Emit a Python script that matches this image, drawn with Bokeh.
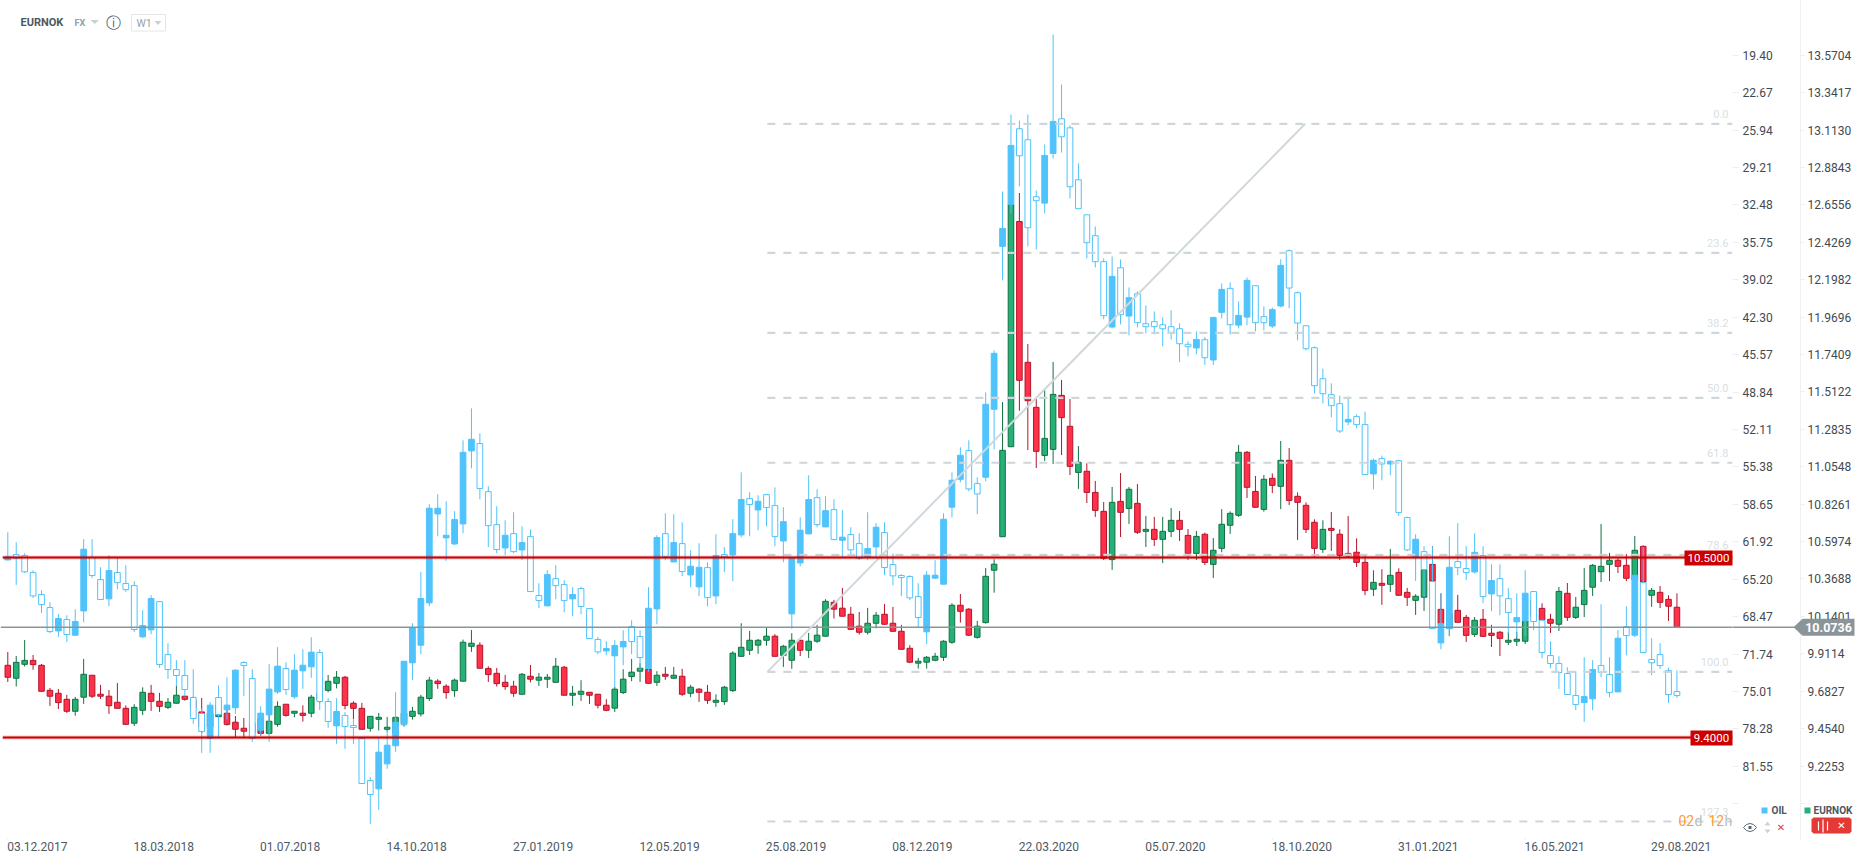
from bokeh.embed import file_html
from bokeh.resources import INLINE
from bokeh.plotting import figure
from bokeh.models import (ColumnDataSource, LinearAxis, Range1d, FixedTicker, Label, NumeralTickFormatter)

symbol = "EURNOK"
oil_ticks = [19.40,22.67,25.94,29.21,32.48,35.75,39.02,42.30,45.57,48.84,52.11,55.38,58.65,61.92,65.20,68.47,71.74,75.01,78.28,81.55,84.82]
eur_ticks = [13.5704,13.3417,13.1130,12.8843,12.6556,12.4269,12.1982,11.9696,11.7409,11.5122,11.2835,11.0548,10.8261,10.5974,10.3688,10.1401,9.9114,9.6827,9.4540,9.2253,8.9966]
date_labels = ["03.12.2017","18.03.2018","01.07.2018","14.10.2018","27.01.2019","12.05.2019","25.08.2019","08.12.2019","22.03.2020","05.07.2020","18.10.2020","31.01.2021","16.05.2021","29.08.2021"]
fib_names = ["0.0","23.6","38.2","50.0","61.8","78.6","100.0","127.3"]
fib_levels = [13.151,12.362,11.873,11.476,11.079,10.516,9.801,8.886]
support_levels = [10.5,9.4]
last_price = 10.0736

eur_high = [9.922,9.898,9.996,9.904,9.849,9.702,9.696,9.660,9.648,9.880,
9.782,9.721,9.690,9.733,9.596,9.603,9.706,9.721,9.672,9.641,
9.715,9.654,9.650,9.641,9.578,9.629,9.599,9.531,9.519,9.548,
9.548,9.548,9.621,9.603,9.560,9.596,9.660,9.690,9.782,9.806,
9.776,9.621,9.611,9.531,9.550,9.525,9.527,9.578,9.586,9.660,
9.770,9.756,9.725,9.760,9.998,10.057,9.982,9.835,9.825,9.782,
9.746,9.794,9.843,9.794,9.788,9.886,9.837,9.715,9.750,9.678,
9.666,9.634,9.709,9.817,9.880,9.854,9.823,9.805,9.831,9.831,
9.819,9.721,9.701,9.721,9.664,9.715,9.927,10.098,10.051,10.002,
10.072,10.031,9.966,10.037,9.996,10.039,10.088,10.245,10.241,10.314,
10.198,10.167,10.192,10.167,10.216,10.198,10.088,9.964,9.886,9.898,
9.917,9.994,10.220,10.277,10.190,10.112,10.436,10.489,11.450,12.664,
12.728,11.805,11.469,11.524,11.695,11.585,11.469,11.181,11.076,10.968,
10.839,10.931,11.016,10.931,10.949,10.754,10.748,10.748,10.803,10.784,
10.674,10.662,10.652,10.619,10.796,10.782,11.188,11.151,10.998,11.004,
11.014,11.212,11.169,10.898,10.837,10.733,10.727,10.778,10.672,10.754,
10.617,10.513,10.422,10.428,10.552,10.434,10.314,10.275,10.444,10.570,
10.281,10.200,10.271,10.149,10.136,10.185,10.088,10.051,10.045,10.045,
10.159,10.261,10.220,10.155,10.320,10.344,10.259,10.436,10.460,10.705,
10.528,10.495,10.521,10.631,10.574,10.314,10.326,10.269,10.281]
eur_low = [9.739,9.711,9.833,9.814,9.680,9.593,9.574,9.550,9.533,9.605,
9.641,9.635,9.544,9.576,9.478,9.470,9.537,9.562,9.556,9.574,
9.607,9.625,9.548,9.425,9.425,9.523,9.472,9.401,9.395,9.405,
9.411,9.419,9.466,9.527,9.523,9.497,9.523,9.609,9.676,9.700,
9.572,9.511,9.448,9.436,9.442,9.436,9.405,9.466,9.509,9.528,
9.623,9.697,9.636,9.648,9.742,9.923,9.821,9.739,9.711,9.691,
9.648,9.662,9.737,9.715,9.703,9.735,9.656,9.593,9.623,9.605,
9.577,9.560,9.556,9.666,9.744,9.739,9.729,9.715,9.752,9.758,
9.654,9.646,9.617,9.605,9.587,9.599,9.678,9.894,9.904,9.911,
9.961,9.894,9.831,9.819,9.898,9.886,9.978,10.017,10.127,10.139,
10.057,10.029,10.029,10.067,10.088,10.047,9.937,9.854,9.821,9.821,
9.866,9.868,9.972,10.102,10.023,10.004,10.096,10.285,10.627,11.177,
11.397,11.157,11.047,11.090,11.071,11.126,11.004,10.919,10.833,10.748,
10.485,10.424,10.625,10.705,10.644,10.564,10.570,10.466,10.625,10.601,
10.485,10.485,10.454,10.375,10.532,10.644,10.748,10.864,10.805,10.780,
10.894,10.796,10.821,10.607,10.650,10.501,10.528,10.540,10.485,10.501,
10.442,10.269,10.265,10.210,10.289,10.267,10.204,10.149,10.173,10.342,
10.016,10.020,10.102,9.984,10.014,10.016,9.953,9.898,9.965,9.959,
9.971,10.118,10.118,10.039,10.051,10.112,10.124,10.136,10.265,10.350,
10.356,10.405,10.356,10.342,10.342,10.198,10.191,10.112,10.0736]
eur_open = [9.841,9.762,9.847,9.871,9.841,9.688,9.670,9.633,9.560,9.646,
9.780,9.664,9.652,9.615,9.578,9.487,9.566,9.670,9.621,9.584,
9.609,9.652,9.629,9.556,9.466,9.527,9.548,9.493,9.456,9.425,
9.517,9.425,9.480,9.603,9.548,9.548,9.548,9.629,9.688,9.731,
9.768,9.609,9.578,9.456,9.511,9.450,9.425,9.487,9.529,9.544,
9.638,9.744,9.713,9.686,9.744,9.957,9.964,9.821,9.792,9.737,
9.713,9.664,9.774,9.750,9.756,9.737,9.829,9.658,9.664,9.676,
9.664,9.597,9.579,9.674,9.772,9.805,9.817,9.737,9.786,9.762,
9.774,9.670,9.695,9.676,9.615,9.619,9.686,9.896,9.933,9.964,
9.994,10.019,9.902,9.872,9.994,9.933,9.988,10.019,10.226,10.190,
10.153,10.080,10.043,10.098,10.153,10.098,10.049,9.945,9.854,9.860,
9.872,9.890,9.982,10.208,10.184,10.012,10.102,10.422,10.627,11.177,
12.554,11.693,11.418,11.124,11.161,11.491,11.302,11.020,11.027,10.898,
10.782,10.487,10.843,10.800,10.831,10.660,10.672,10.611,10.660,10.727,
10.635,10.525,10.642,10.458,10.556,10.697,10.758,11.143,10.904,10.794,
10.984,10.935,11.094,10.874,10.819,10.715,10.550,10.678,10.642,10.525,
10.532,10.470,10.306,10.342,10.336,10.409,10.287,10.238,10.257,10.458,
10.183,10.067,10.177,10.134,10.030,10.122,10.037,10.043,9.982,9.988,
9.988,10.138,10.189,10.122,10.092,10.281,10.134,10.212,10.318,10.413,
10.458,10.483,10.452,10.363,10.568,10.269,10.287,10.244,10.196]
eur_close = [9.768,9.859,9.871,9.845,9.682,9.652,9.613,9.560,9.633,9.786,
9.652,9.652,9.594,9.578,9.480,9.584,9.676,9.621,9.590,9.615,
9.658,9.633,9.578,9.466,9.548,9.599,9.480,9.450,9.438,9.487,
9.425,9.499,9.590,9.535,9.560,9.535,9.646,9.670,9.743,9.768,
9.596,9.578,9.450,9.529,9.523,9.462,9.523,9.548,9.560,9.646,
9.750,9.729,9.674,9.750,9.982,9.976,9.823,9.784,9.729,9.711,
9.670,9.786,9.756,9.768,9.768,9.835,9.658,9.670,9.682,9.658,
9.597,9.566,9.695,9.756,9.799,9.823,9.731,9.780,9.774,9.780,
9.664,9.707,9.676,9.627,9.627,9.707,9.915,9.951,9.994,9.994,
10.019,9.896,9.957,9.994,9.933,9.988,10.025,10.232,10.184,10.141,
10.061,10.043,10.098,10.147,10.092,10.049,9.939,9.860,9.866,9.890,
9.896,9.988,10.208,10.171,10.025,10.080,10.385,10.459,11.155,12.660,
11.583,11.458,11.149,11.228,11.497,11.355,11.057,11.082,10.898,10.788,
10.495,10.837,10.776,10.917,10.654,10.672,10.611,10.660,10.727,10.672,
10.525,10.629,10.470,10.544,10.703,10.770,11.143,10.929,10.807,10.978,
10.941,11.094,10.849,10.837,10.672,10.556,10.672,10.666,10.513,10.509,
10.470,10.299,10.348,10.330,10.391,10.269,10.257,10.263,10.426,10.356,
10.094,10.159,10.104,10.024,10.116,10.018,10.024,10.006,9.994,10.000,
10.112,10.240,10.118,10.098,10.293,10.134,10.196,10.299,10.452,10.446,
10.483,10.446,10.373,10.544,10.350,10.299,10.226,10.202,10.0736]

oil_low = [61.10,61.97,62.93,64.42,66.17,67.21,68.26,68.35,67.83,61.71,
61.71,64.16,63.11,63.37,63.98,65.38,67.91,66.60,67.16,70.80,
72.28,72.28,73.07,76.50,75.95,74.46,73.77,73.07,72.37,73.07,
76.30,72.63,71.14,72.46,71.76,71.32,70.27,71.32,75.60,75.60,
76.82,77.46,79.07,82.50,79.12,78.40,75.08,72.37,69.05,64.56,
58.65,57.78,58.39,59.26,53.06,50.27,52.45,57.08,58.83,60.05,
59.35,60.57,60.84,65.55,64.42,63.98,65.29,65.90,65.87,67.77,
70.24,70.62,70.53,69.66,68.79,69.66,65.90,61.36,59.44,59.53,
60.23,62.67,62.06,63.72,61.27,62.41,59.96,55.86,57.60,57.87,
57.78,57.17,58.91,63.37,59.79,56.12,57.34,57.95,58.22,59.17,
60.66,61.18,59.35,60.31,60.22,62.96,64.77,64.85,65.55,64.50,
63.54,59.44,55.86,53.67,53.06,56.29,48.87,45.20,31.31,24.58,
25.11,24.58,31.22,27.20,17.59,21.96,25.54,28.86,33.35,34.37,
37.16,36.99,37.25,39.70,40.04,41.27,41.79,42.32,41.70,42.84,
44.41,43.54,44.03,42.32,39.35,39.26,40.92,38.82,39.55,41.35,
41.47,37.24,36.37,40.04,43.05,44.85,46.80,48.08,49.16,49.25,
50.79,50.56,54.66,54.40,54.81,54.75,59.73,61.27,62.32,62.32,
66.46,61.45,60.31,62.32,61.19,62.32,63.90,63.90,65.99,66.43,
64.42,66.25,68.70,70.62,71.93,72.89,73.24,72.02,72.28,67.39,
72.02,69.66,67.56,64.86,62.38,70.36,70.80,72.92,73.16]
oil_high = [63.54,65.70,64.65,66.84,68.15,69.92,70.24,70.68,70.10,68.96,
65.09,67.01,67.56,66.08,66.31,69.81,70.33,70.01,72.95,73.91,
74.55,75.45,77.84,80.38,80.38,79.12,77.46,76.97,75.40,79.42,
78.89,79.42,75.22,75.31,75.66,74.78,73.82,76.65,78.19,79.59,
80.03,79.59,83.06,86.58,85.36,81.77,80.29,77.93,74.00,71.76,
67.56,61.45,63.60,62.23,61.19,55.51,58.22,62.41,62.93,63.11,
62.93,63.54,66.28,67.74,67.56,66.95,68.09,68.44,68.26,70.39,
71.76,71.84,74.64,72.72,71.76,73.15,73.30,69.14,63.54,63.72,
64.94,65.90,66.69,67.56,67.39,64.59,65.38,61.54,61.45,60.92,
60.57,62.32,63.72,69.54,64.07,61.24,60.66,60.66,61.80,63.25,
63.02,63.54,63.54,63.40,64.85,65.73,66.69,67.04,69.40,70.88,
65.20,65.64,59.79,56.73,57.52,59.52,56.64,53.85,39.08,33.23,
30.87,36.11,36.38,33.23,28.43,27.90,31.92,32.85,37.16,37.95,
42.49,43.28,42.93,43.89,43.19,43.71,43.80,44.85,44.24,46.22,
45.72,45.55,46.48,46.48,42.40,43.80,43.28,43.01,43.54,43.45,
43.24,41.44,41.52,44.32,45.20,48.96,49.83,51.05,52.42,51.75,
52.01,56.06,57.34,56.56,56.12,59.67,62.76,65.35,66.75,69.52,
71.32,70.19,64.86,65.29,64.71,67.30,68.00,68.35,69.95,70.24,
70.19,69.66,72.11,72.98,74.79,75.31,76.65,77.67,76.65,73.77,
75.51,75.08,71.85,70.27,71.64,73.59,73.04,76.01,75.57]
oil_open = [63.25,63.37,64.56,66.66,67.42,69.78,68.64,70.04,68.90,62.58,
64.88,66.98,64.45,65.50,66.11,69.60,69.25,66.89,72.66,73.10,
73.62,74.84,77.38,78.51,76.21,77.03,76.21,73.15,72.75,79.12,
76.91,74.81,72.80,74.84,73.15,72.72,71.58,75.89,77.64,76.77,
78.08,78.16,83.06,84.02,80.32,79.71,77.70,72.37,69.43,66.89,
59.00,59.00,61.36,59.99,54.11,52.97,57.28,60.52,62.61,61.36,
62.79,62.00,66.28,67.07,64.80,65.76,67.07,66.54,67.59,70.39,
71.55,71.26,71.00,70.65,70.65,72.05,67.74,61.56,63.22,62.00,
64.53,64.07,64.16,66.81,63.14,63.25,61.22,58.24,58.68,58.39,
58.94,61.48,60.17,63.37,60.92,58.24,60.43,59.21,61.74,61.53,
62.64,63.40,62.52,60.66,64.18,64.91,65.06,66.83,68.55,64.85,
64.85,59.96,56.55,54.37,57.31,57.75,49.91,45.46,34.54,27.29,
28.19,34.48,32.12,28.16,25.19,26.53,30.90,32.82,35.79,37.45,
42.17,38.73,42.08,40.60,42.78,43.13,43.13,43.31,43.63,44.62,
44.88,44.24,45.84,42.32,39.87,42.96,42.14,39.08,42.78,42.78,
41.64,37.77,39.75,42.81,45.06,48.29,48.99,50.03,52.25,51.23,
51.69,56.06,54.81,55.13,54.90,59.38,62.64,61.71,64.36,69.52,
69.08,64.16,64.19,64.62,62.85,66.72,65.32,66.66,68.12,68.55,
66.43,68.90,71.61,72.57,73.36,75.28,76.16,75.46,73.10,73.36,
75.11,70.36,70.13,64.86,71.61,72.51,72.75,75.28,75.37]
oil_close = [63.52,63.05,63.14,64.62,66.54,67.68,69.72,68.73,70.10,67.97,
63.31,65.23,66.92,64.62,65.58,65.76,70.24,69.63,67.16,71.79,
73.10,73.62,75.54,76.94,79.12,75.54,76.62,76.44,72.48,73.88,
78.40,77.06,75.05,73.01,75.48,73.21,72.86,71.61,75.89,78.02,
77.11,77.99,79.12,82.79,83.52,81.34,79.76,77.93,72.51,70.97,
67.27,59.50,61.59,62.12,60.37,53.99,53.35,57.55,60.43,62.47,
61.22,62.64,61.48,66.63,67.53,65.15,65.67,66.92,66.02,67.77,
70.47,71.47,71.90,71.12,69.34,70.21,73.01,67.80,61.22,63.69,
62.09,64.83,65.87,64.19,66.66,63.05,63.08,61.33,58.16,59.15,
57.81,58.77,61.86,68.23,63.78,61.24,58.07,60.63,59.12,61.80,
61.30,62.09,63.25,62.38,61.13,63.92,64.88,64.97,66.72,69.80,
65.11,65.64,58.91,56.47,53.96,56.85,56.29,50.35,36.11,32.44,
25.83,26.79,31.77,32.33,27.99,24.96,25.75,30.29,33.35,35.18,
37.45,43.16,37.98,42.20,40.25,42.87,42.69,42.96,43.13,43.31,
44.67,44.99,44.27,46.04,41.88,39.78,42.99,42.29,39.55,42.25,
43.07,41.32,36.49,40.16,43.05,44.97,47.68,49.07,49.86,51.46,
50.99,51.69,56.00,54.66,55.13,54.84,59.82,63.31,62.79,65.41,
70.77,69.52,63.66,64.27,64.57,63.14,66.49,65.15,66.90,68.93,
68.85,66.28,68.79,71.87,72.57,73.45,75.37,75.98,75.66,72.75,
73.53,75.05,69.34,70.10,65.50,72.22,71.79,73.18,75.02]

BLUE, GREEN, GREEN_D, RED, RED_D = "#4fc3fb", "#25b077", "#12703f", "#ff3148", "#b3142c"
FIB = "#cdd7db"
FW, FH, W, H = 1732, 840, 1866, 865
week_px = 8.43
x_start = -7.3 / week_px
x_end = x_start + FW / week_px
eur_range = Range1d(8.770, 13.9048)
oil_range = Range1d(88.04, 14.62)

p = figure(width=W, height=H, frame_width=FW, frame_height=FH, output_backend="svg", toolbar_location=None,
           x_range=Range1d(x_start, x_end), y_range=eur_range, y_axis_location=None,
           min_border=0, min_border_left=0, min_border_right=0, min_border_top=0, min_border_bottom=0,
           outline_line_color=None, background_fill_color="white", border_fill_color="white")
p.styles = {"position": "absolute", "left": "0", "top": "0"}
p.grid.visible = False
p.extra_y_ranges = {"oil": oil_range}

idx = list(range(len(eur_open)))
date_ticks = [i * 15 + 3.5 for i in range(len(date_labels))]
xa = p.xaxis[0]
xa.ticker = FixedTicker(ticks=date_ticks)
xa.major_label_overrides = {t: s for t, s in zip(date_ticks, date_labels)}
xa.major_tick_line_color = None
xa.minor_tick_line_color = None
xa.major_tick_out = 0
xa.major_tick_in = 0
xa.axis_line_color = None
xa.major_label_standoff = 1
xa.major_label_text_font = "Roboto"
xa.major_label_text_font_size = "12px"
xa.major_label_text_color = "#4d5a63"

oa = LinearAxis(y_range_name="oil", ticker=FixedTicker(ticks=oil_ticks),
                major_label_overrides={oil_ticks[-1]: ""})
ea = LinearAxis(ticker=FixedTicker(ticks=eur_ticks), major_label_overrides={eur_ticks[-1]: ""})
for a in (oa, ea):
    a.minor_tick_line_color = None
    a.major_tick_in = 0
    a.major_label_text_font = "Roboto"
    a.major_label_text_font_size = "12px"
    a.major_label_text_color = "#3f4a52"
    a.major_tick_line_color = "#eceff1"
oa.formatter = NumeralTickFormatter(format="0.00")
ea.formatter = NumeralTickFormatter(format="0.0000")
oa.major_tick_out = 6
oa.major_label_standoff = 4
oa.axis_line_color = None
oa.axis_label = " "
oa.axis_label_standoff = 8
oa.axis_label_text_font_size = "12px"
ea.major_tick_out = 4
ea.major_label_standoff = 3
ea.axis_line_color = "#eef0f2"
p.add_layout(oa, "right")
p.add_layout(ea, "right")

def candles(o, h, l, c, up_fill, up_line, dn_fill, dn_line, width, **kw):
    up = [i for i in idx if c[i] >= o[i]]
    dn = [i for i in idx if c[i] < o[i]]
    for sel, fill, line in ((up, up_fill, up_line), (dn, dn_fill, dn_line)):
        src = ColumnDataSource(dict(x=sel, hi=[h[i] for i in sel], lo=[l[i] for i in sel],
                                    top=[max(o[i], c[i]) for i in sel], bot=[min(o[i], c[i]) for i in sel]))
        p.segment("x", "hi", "x", "lo", source=src, line_color=line, line_width=1, **kw)
        p.vbar(x="x", top="top", bottom="bot", width=width, source=src, fill_color=fill, line_color=line, line_width=1, **kw)

candles(eur_open, eur_high, eur_low, eur_close, GREEN, GREEN_D, RED, RED_D, 0.66)
# inverted scale: oil rising is drawn filled
candles(oil_open, oil_high, oil_low, oil_close, BLUE, BLUE, "white", BLUE, 0.68, y_range_name="oil")

p.segment([x_start], [last_price], [x_end], [last_price], line_color="#8b9599", line_width=1.4)
fib_x0 = 90.1
p.segment([fib_x0] * len(fib_levels), fib_levels, [x_end] * len(fib_levels), fib_levels,
          line_color=FIB, line_width=2.2, line_dash="8 8")
p.segment([fib_x0], [fib_levels[6]], [153.9], [fib_levels[0]], line_color="#d0d8dc", line_width=2)
x_red = -0.6
p.segment([x_red] * 2, support_levels, [x_end] * 2, support_levels, line_color="#cc0000", line_width=4, line_alpha=0.22)
p.segment([x_red] * 2, support_levels, [x_end] * 2, support_levels, line_color="#cc0000", line_width=2)
p.segment([i * 15 for i in range(len(date_labels))], [eur_range.start] * len(date_labels),
          [i * 15 for i in range(len(date_labels))], [eur_range.start + 0.012] * len(date_labels), line_color="#e8ebed")

# transparent page-sized layer for the tags and interface texts that sit outside the plot frame
ov = figure(width=W, height=H, output_backend="svg", toolbar_location=None,
            x_range=Range1d(0, W), y_range=Range1d(H, 0), x_axis_location=None, y_axis_location=None,
            min_border=0, outline_line_color=None, background_fill_color=None, border_fill_color=None)
ov.styles = {"position": "absolute", "left": "0", "top": "0", "pointer-events": "none"}
ov.grid.visible = False

def T(x, y, text, size=12, color="#3f4a52", style="normal", align="left", font="Roboto"):
    ov.add_layout(Label(x=x, y=y, text=text, text_font=font, text_font_size=f"{size}px", text_color=color,
                        text_font_style=style, text_align=align, text_baseline="middle"))

def P(xs, ys, fill=None, line=None, lw=1):
    ov.patch(xs, ys, fill_color=fill, fill_alpha=1 if fill else 0, line_color=line, line_alpha=1 if line else 0, line_width=lw)

def px(price):
    return (eur_range.end - price) / (eur_range.end - eur_range.start) * FH

yl = px(last_price)
ov.line([FW, 1794], [yl, yl], line_color="#8b9599", line_width=1.4)
P([1793, 1802, 1854, 1854, 1802], [yl, yl - 8.5, yl - 8.5, yl + 8.5, yl + 8.5], fill="#8b9599")
T(1828, yl + 0.5, f"{last_price:.4f}", 12.5, "white", "bold", "center")
y1, y2 = px(support_levels[0]), px(support_levels[1])
P([1684, 1732, 1732, 1684], [y1 - 7, y1 - 7, y1 + 8, y1 + 8], fill="#cc0000")
T(1708, y1 + 0.5, f"{support_levels[0]:.4f}", 11.5, "white", "normal", "center")
P([1690, 1732, 1732, 1690], [y2 - 7, y2 - 7, y2 + 8, y2 + 8], fill="#cc0000")
T(1711, y2 + 0.5, f"{support_levels[1]:.4f}", 11.5, "white", "normal", "center")
for n, level in zip(fib_names, fib_levels):
    T(1728, px(level) - 9.5, n, 11, "#d8dfe3", "normal", "right")
# header
T(20, 22, symbol, 11, "#4a5862", "bold")
T(74, 22, "FX", 9, "#8ba1ae", "bold")
P([90, 98.5, 94.2], [19.5, 19.5, 23.5], fill="#c9d0d4")
T(112.5, 22, "ⓘ", 15, "#55626b", "normal", "center", "DejaVu Sans")
P([131, 165, 165, 131], [14, 14, 30.5, 30.5], line="#e3e6e8")
T(136, 22.5, "W1", 10.5, "#98a3aa")
P([154, 161, 157.5], [20.5, 20.5, 24.5], fill="#c9d0d4")
# countdown
T(1678, 820, "02", 14, "#ff9d2e")
T(1694, 820, "d", 14, "#b7bfc4")
T(1708, 820, "12", 14, "#ff9d2e")
T(1724, 820, "h", 14, "#b7bfc4")
# legend
P([1761, 1767, 1767, 1761], [807, 807, 813, 813], fill=BLUE)
T(1771, 810, "OIL", 10, "#4a5660", "bold")
P([1804, 1810, 1810, 1804], [807, 807, 813, 813], fill=GREEN)
T(1813, 810, symbol, 10, "#4a5660", "bold")
P([1743, 1746, 1749.5, 1753, 1756, 1753, 1749.5, 1746], [827, 824, 823, 824, 827, 830, 831, 830], line="#59646c")
P([1748, 1751, 1751, 1748], [825.5, 825.5, 828.5, 828.5], fill="#59646c")
P([1764, 1770, 1767], [825, 825, 821], fill="#ccd3d7")
P([1764, 1770, 1767], [829, 829, 833], fill="#ccd3d7")
T(1780.5, 827, "✕", 10, "#e53935", "bold", "center", "DejaVu Sans")
P([1813, 1849, 1851, 1851, 1849, 1813, 1811, 1811], [817, 817, 819, 831, 833, 833, 831, 819], fill="#e53935")
for x, y0, y1_ in ((1818, 821, 830), (1822.5, 819, 832), (1827, 821, 830)):
    P([x - 0.6, x + 0.6, x + 0.6, x - 0.6], [y0, y0, y1_, y1_], fill="white")
T(1841, 825, "✕", 10, "white", "bold", "center", "DejaVu Sans")

open("out.html", "w").write(file_html([p, ov], INLINE))
